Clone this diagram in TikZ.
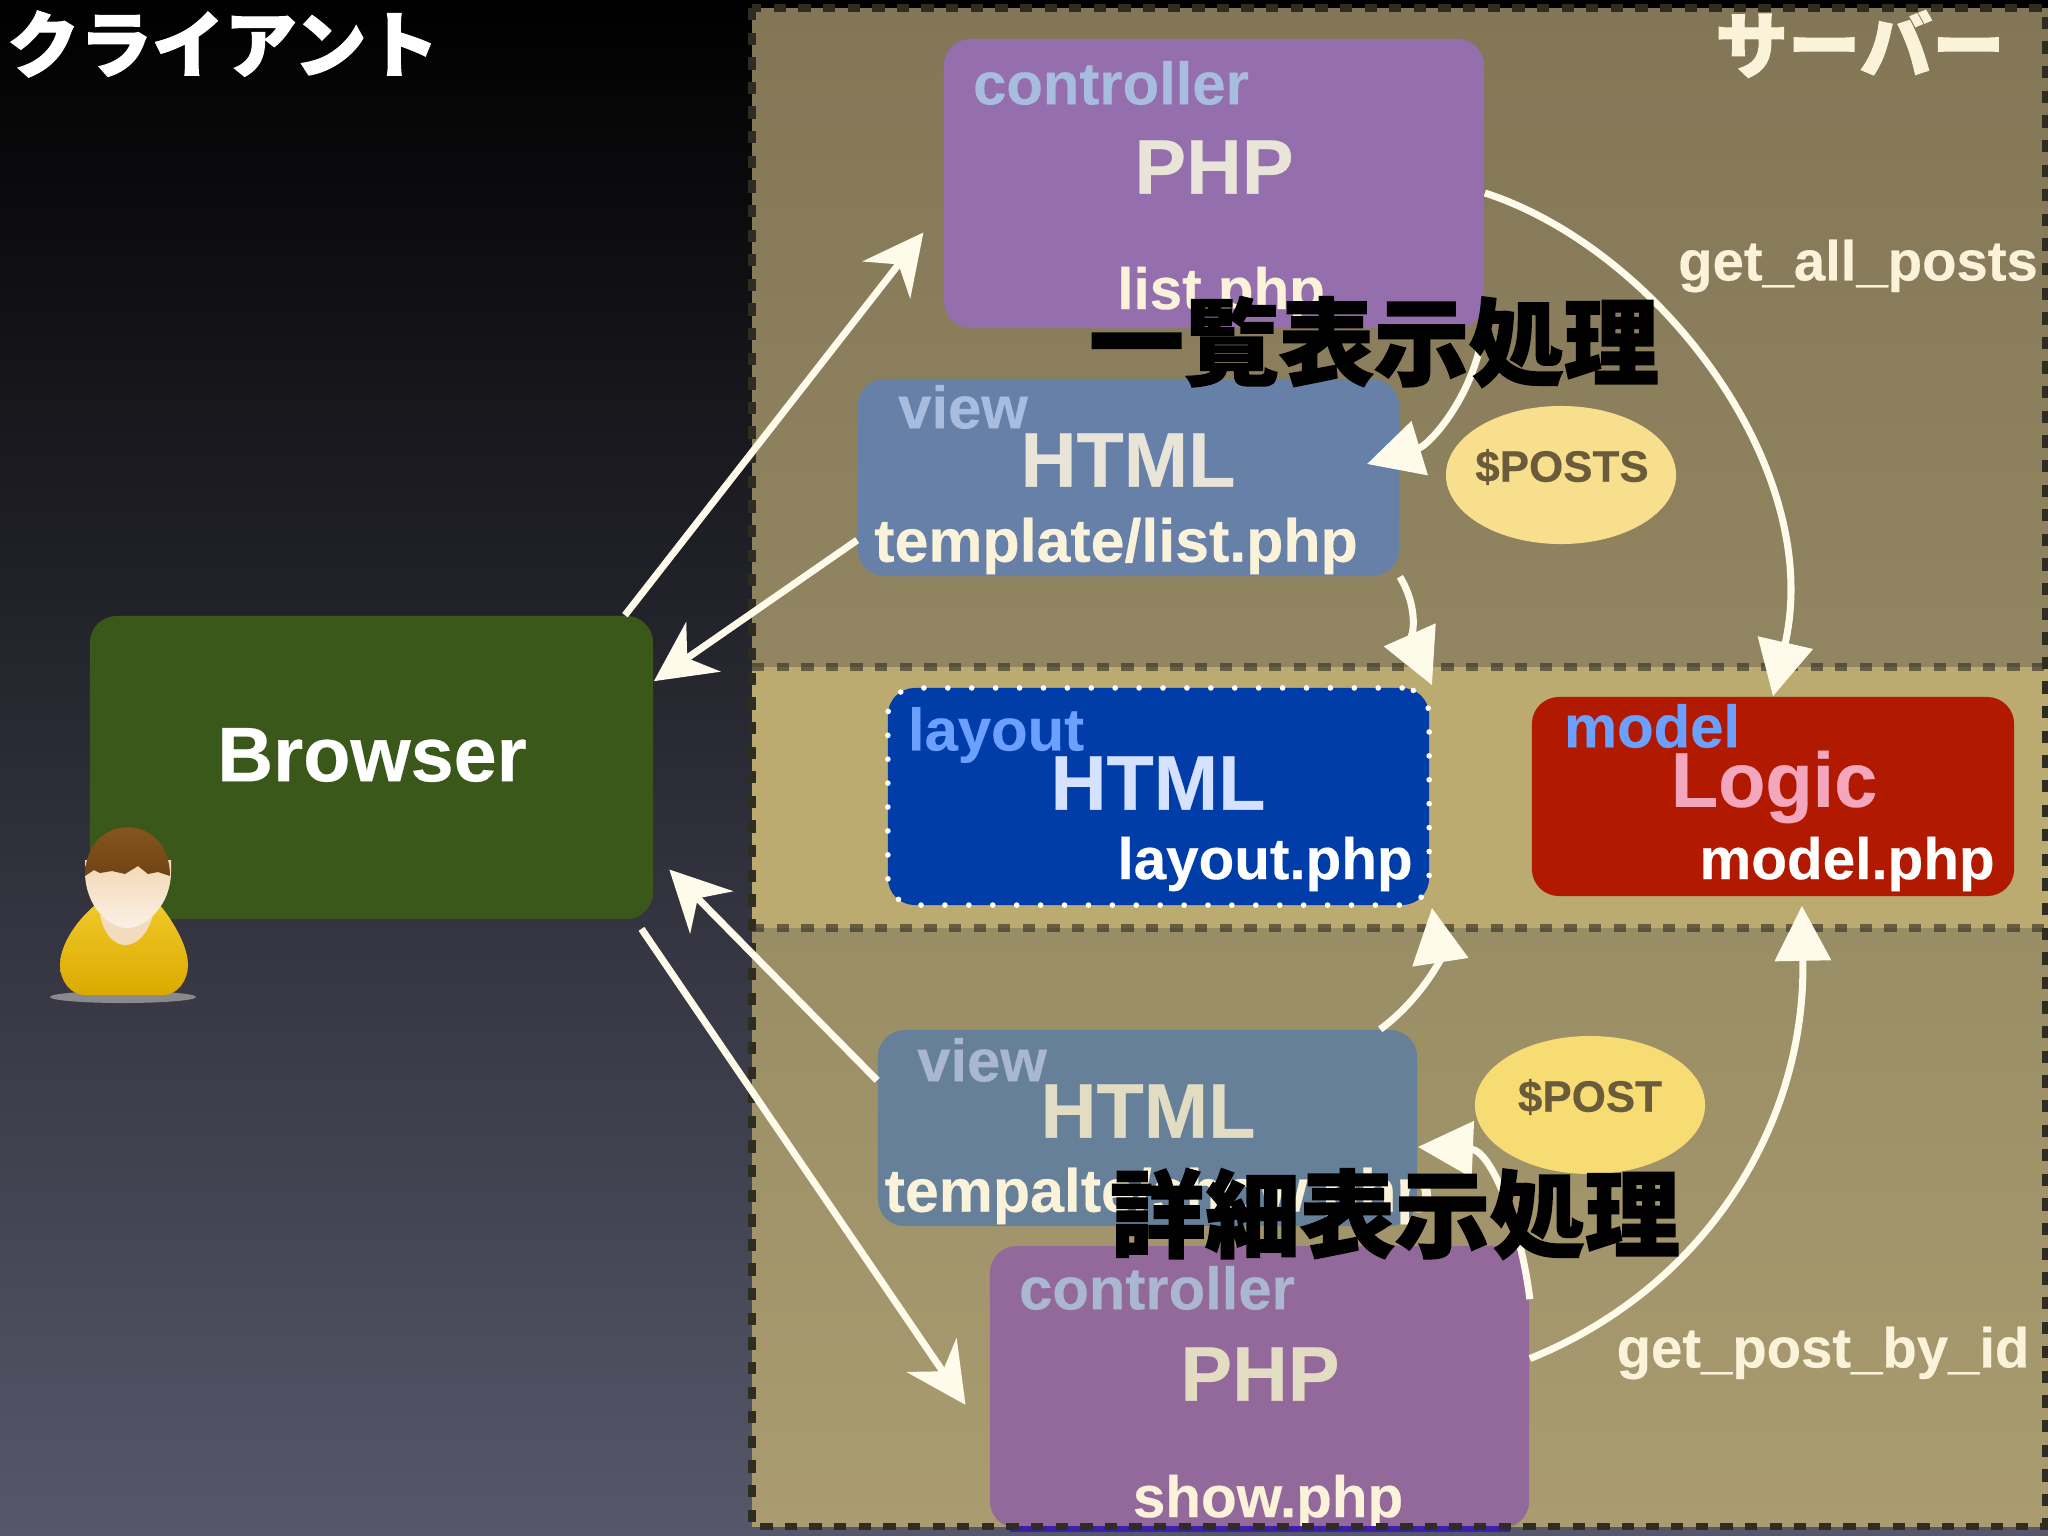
\documentclass[tikz,border=0pt]{standalone}
\usepackage{fontspec}
\setmainfont{Liberation Sans}[BoldFeatures={FakeBold=0.35}]
\newfontfamily\jpfont{Noto Sans CJK JP}[FakeBold=1.6]
\usetikzlibrary{arrows.meta,shapes.geometric}
\definecolor{cream}{HTML}{FBF3D9}
\definecolor{chalk}{HTML}{FFFBEA}
\definecolor{dashdark}{HTML}{2F2C22}
\definecolor{varbrown}{HTML}{6A5C3A}
\definecolor{bgmid}{HTML}{2B2B38}
\definecolor{bgend}{HTML}{56576A}
\definecolor{topA}{HTML}{827656}
\definecolor{topB}{HTML}{928561}
\definecolor{midband}{HTML}{BBAB70}
\definecolor{lowA}{HTML}{998D65}
\definecolor{lowB}{HTML}{AA9C70}
\definecolor{browserfill}{HTML}{3B581B}
\definecolor{ctrlAfill}{HTML}{946EAD}
\definecolor{ctrlBfill}{HTML}{93699B}
\definecolor{viewAfill}{HTML}{6680A8}
\definecolor{viewBfill}{HTML}{678099}
\definecolor{layoutfill}{HTML}{003DA8}
\definecolor{modelfill}{HTML}{B11A00}
\definecolor{postsfill}{HTML}{F8DF8E}
\definecolor{postfill}{HTML}{F6DC72}
\definecolor{nameA}{HTML}{A8BCE0}
\definecolor{nameB}{HTML}{A9B7D0}
\definecolor{nameC}{HTML}{6CA0FF}
\definecolor{bigA}{HTML}{E8E4D8}
\definecolor{bigB}{HTML}{E2DDC2}
\definecolor{bigC}{HTML}{D5E2FF}
\definecolor{logicpink}{HTML}{F4A6BC}
\definecolor{strip}{HTML}{3E1FA8}
\definecolor{shirtA}{HTML}{F0C828}
\definecolor{shirtB}{HTML}{DBAA00}
\definecolor{skinA}{HTML}{F5D7B4}
\definecolor{skinB}{HTML}{FAF0E6}
\definecolor{collar}{HTML}{F3DCBE}
\definecolor{hairA}{HTML}{8C5A20}
\definecolor{hairB}{HTML}{704414}
\tikzset{
    box/.style={rounded corners=0.27cm, inner sep=0pt},
    bigtext/.style={font=\fontsize{22}{24}\selectfont\bfseries, inner sep=0pt},
    nametext/.style={font=\fontsize{17}{19}\selectfont\bfseries, inner sep=0pt},
    filetext/.style={font=\fontsize{16.6}{19}\selectfont\bfseries, inner sep=0pt, text=cream},
    pathtext/.style={font=\fontsize{17.3}{19}\selectfont\bfseries, inner sep=0pt, text=cream},
    methodtext/.style={font=\fontsize{16}{18}\selectfont\bfseries, inner sep=0pt, text=cream},
    vartext/.style={font=\fontsize{12.5}{14}\selectfont\bfseries, inner sep=0pt, text=varbrown},
    headtext/.style={font=\jpfont\fontsize{27}{30}\selectfont\bfseries, inner sep=0pt, text=black},
    sidetext/.style={font=\jpfont\fontsize{20.6}{22}\selectfont\bfseries, inner sep=0pt},
    bubble/.style={ellipse, minimum width=2.30cm, minimum height=1.38cm, inner sep=0pt},
    flow/.style={draw=chalk, line width=2pt, -{Triangle[length=5.5mm,width=5.5mm]}},
    oneway/.style={draw=chalk, line width=2pt, -{Stealth[length=6mm,width=6mm]}},
    zone/.style={draw=dashdark, line width=2pt, dash pattern=on 3.5pt off 3.5pt}
}
\begin{document}
\begin{tikzpicture}[x=0.01cm, y=-0.01cm]
    \useasboundingbox (0,0) rectangle (2048,1536);
    % Client side
    \shade[top color=black, middle color=bgmid, bottom color=bgend] (0,0) rectangle (2048,1536);

    % Server bands
    \shade[top color=topA, bottom color=topB] (752,8) rectangle (2048,667);
    \fill[midband] (752,667) rectangle (2048,928);
    \shade[top color=lowA, bottom color=lowB] (752,928) rectangle (2048,1526);

    % Browser and user
    \node[box, fill=browserfill, minimum width=5.63cm, minimum height=3.03cm] (browser) at (371.5,767.5) {};
    \node[bigtext, text=white] (browsertext) at (372,755) {Browser};
    \fill[gray!75, opacity=0.8] (123,997) ellipse (0.73cm and 0.06cm);
    \shade[top color=shirtA, bottom color=shirtB] (95,905) .. controls (72,925) and (60,948) .. (60,965) .. controls (60,980) and (70,995) .. (85,995) -- (163,995) .. controls (178,995) and (188,980) .. (188,965) .. controls (188,948) and (176,925) .. (160,905) -- cycle;
    \fill[collar] (100,915) .. controls (108,955) and (142,955) .. (153,915) -- cycle;
    \shade[top color=skinA, bottom color=skinB] (85,860) -- (171,860) -- (171,872) .. controls (171,905) and (146,928) .. (127,928) .. controls (108,928) and (85,905) .. (85,872) -- cycle;
    \shade[top color=hairA, bottom color=hairB] (85,876) .. controls (85,811) and (170,811) .. (170,876) -- (158,872) -- (148,874) -- (138,866) -- (125,874) -- (112,871) -- (100,873) -- (94,870) -- cycle;

    % First server page
    \node[box, fill=ctrlAfill, minimum width=5.40cm, minimum height=2.89cm] (ctrlA) at (1214,183.5) {};
    \node[nametext, text=nameA] (ctrlAname) at (1111,83) {controller};
    \node[bigtext, text=bigA] (ctrlAbig) at (1214,167) {PHP};
    \node[filetext] (ctrlAfile) at (1221,294) {list.php};
    \node[box, fill=viewAfill, minimum width=5.41cm, minimum height=1.97cm] (viewA) at (1128.5,477.5) {};
    \node[nametext, text=nameA] (viewAname) at (963,407) {view};
    \node[bigtext, text=bigA] (viewAbig) at (1128,460) {HTML};
    \node[pathtext] (viewAfile) at (1116,546) {template/list.php};
    \node[bubble, fill=postsfill] (posts) at (1561,475) {};
    \node[vartext] (poststext) at (1562,467) {\$POSTS};
    \node[methodtext] (allposts) at (1858,266) {get\_all\_posts};

    % Layout and model
    \node[box, fill=layoutfill, draw=white, line width=1.6pt, line cap=round, dash pattern=on 0pt off 6.8pt, minimum width=5.41cm, minimum height=2.17cm] (layout) at (1158.5,796.5) {};
    \node[nametext, text=nameC] (layoutname) at (996,735) {layout};
    \node[bigtext, text=bigC] (layoutbig) at (1158,783) {HTML};
    \node[filetext, text=white] (layoutfile) at (1265,864) {layout.php};
    \node[box, fill=modelfill, minimum width=4.82cm, minimum height=1.99cm] (model) at (1773,796.5) {};
    \node[nametext, text=nameC] (modelname) at (1652,726) {model};
    \node[bigtext, text=logicpink] (modelbig) at (1774,787) {Logic};
    \node[filetext, text=white] (modelfile) at (1847,864) {model.php};

    % Second server page
    \node[box, fill=viewBfill, minimum width=5.39cm, minimum height=1.96cm] (viewB) at (1147.5,1128) {};
    \node[nametext, text=nameB] (viewBname) at (982,1060) {view};
    \node[bigtext, text=bigB] (viewBbig) at (1148,1111) {HTML};
    \node[pathtext, anchor=west] (viewBfile) at (884,1196) {tempalte/show.php};
    \node[box, fill=ctrlBfill, minimum width=5.39cm, minimum height=2.82cm] (ctrlB) at (1259.5,1387) {};
    \node[nametext, text=nameB] (ctrlBname) at (1157,1288) {controller};
    \node[bigtext, text=bigB] (ctrlBbig) at (1260,1374) {PHP};
    \node[filetext] (ctrlBfile) at (1268,1502) {show.php};
    \fill[strip] (1010,1526) rectangle (1510,1532);
    \node[bubble, fill=postfill] (post) at (1590,1105) {};
    \node[vartext] (posttext) at (1590,1097) {\$POST};
    \node[methodtext] (postbyid) at (1823,1353) {get\_post\_by\_id};

    % Dashed zones
    \draw[zone] (752,8) rectangle (2045,1526);
    \draw[zone, opacity=0.6] (752,667) -- (2045,667);
    \draw[zone, opacity=0.6] (752,928) -- (2045,928);

    % Browser requests and replies
    \draw[oneway, shorten >=0.32cm] (browser.31) -- (ctrlA.185.7);
    \draw[oneway] (viewA.193.4) -- (browser.17.6);
    \draw[oneway, shorten >=0.22cm] (viewB.170.1) -- (browser.-17.8);
    \draw[oneway, shorten <=0.11cm, shorten >=0.42cm] (browser.-30.2) -- (ctrlB.191.7);

    % Calls inside the server
    \coordinate (viewAtip) at (1367,464);
    \draw[flow] (ctrlA.-26) .. controls (1480,390) and (1430,445) .. (viewAtip);
    \draw[flow] (ctrlA.358) .. controls (1660,250) and (1825,470) .. (model.north);
    \draw[flow] (viewA.south east) .. controls (1420,610) and (1412,640) .. (layout.north east);
    \draw[flow] (viewB.23) .. controls (1420,1000) and (1440,960) .. (layout.south east);
    \draw[flow] (ctrlB.18.7) .. controls (1520,1220) and (1490,1150) .. (viewB.-4);
    \draw[flow, shorten >=0.09cm] (ctrlB.6.1) .. controls (1700,1290) and (1806,1130) .. (model.-74);

    % Headings
    \node[sidetext, text=white] (clienttitle) at (223,44) {クライアント};
    \node[sidetext, text=cream] (servertitle) at (1860,44) {サーバー};
    \node[headtext] (listtitle) at (1374,342) {一覧表示処理};
    \node[headtext] (showtitle) at (1395,1214) {詳細表示処理};
\end{tikzpicture}
\end{document}
